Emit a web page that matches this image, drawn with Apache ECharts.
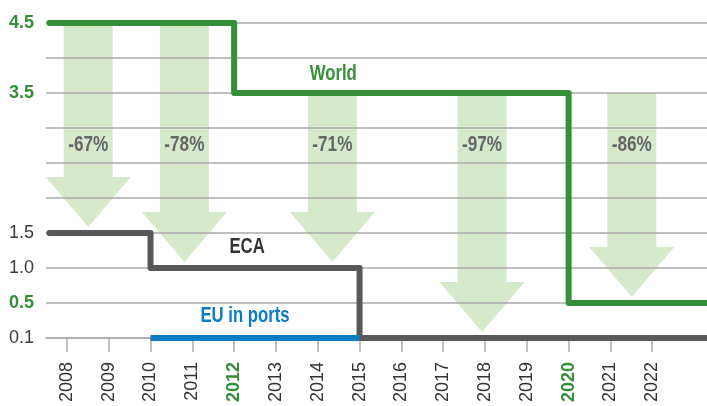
<!DOCTYPE html>
<html>
<head>
<meta charset="utf-8">
<script src="https://cdn.jsdelivr.net/npm/echarts@6/dist/echarts.min.js"></script>
<style>
  html, body { margin: 0; padding: 0; background: #fff; }
  #chart { width: 707px; height: 406px; }
</style>
</head>
<body>
<div id="chart"></div>
<script>
// limits (% sulphur) along the category y axis, bottom to top
const levels = ['0.1', '0.5', '1.0', '1.5', '2.0', '2.5', '3.0', '3.5', '4.0', '4.5'];
const shownLevels = ['4.5', '3.5', '1.5', '1.0', '0.5', '0.1'];
const greenLevels = ['4.5', '3.5', '0.5'];
const years = [2008, 2009, 2010, 2011, 2012, 2013, 2014, 2015, 2016, 2017, 2018, 2019, 2020, 2021, 2022];
const greenYears = [2012, 2020];

const xMin = 2007.5, xMax = 2023.31;
const world = [[2007.58, '4.5'], [2012, '4.5'], [2012, '3.5'], [2020, '3.5'], [2020, '0.5'], [2023.6, '0.5']];
const eca = [[2007.58, '1.5'], [2010, '1.5'], [2010, '1.0'], [2015, '1.0'], [2015, '0.1'], [2023.6, '0.1']];
const euPorts = [[2010, '0.1'], [2015, '0.1']];

// reduction arrows
const arrowX = [2008.51, 2010.81, 2014.35, 2017.93, 2021.51];
const arrowFrom = ['4.5', '4.5', '3.5', '3.5', '3.5'];
const arrowTo = ['1.5', '1.0', '1.0', '0.1', '0.5'];
const arrowLabels = ['-67%', '-78%', '-71%', '-97%', '-86%'];

// line names
const lineNames = ['World', 'ECA', 'EU in ports'];
const lineNameX = [2014.37, 2012.31, 2012.26];
const lineNameLevel = [7.54, 2.59, 0.63];

const GREEN = '#348f38', GREY = '#58585a', BLUE = '#0a7cc4', ARROW = '#d4eacb';
const FONT = '"Liberation Sans", Arial, sans-serif';

function levelY(api, x, f) {
  const i = Math.floor(f);
  const a = api.coord([x, i])[1];
  const b = api.coord([x, Math.min(i + 1, levels.length - 1)])[1];
  return a + (b - a) * (f - i);
}

const chart = echarts.init(document.getElementById('chart'));
chart.setOption({
  animation: false,
  grid: { left: 46, right: 0, top: 23, bottom: 68, containLabel: false, outerBoundsMode: 'none' },
  xAxis: {
    type: 'value',
    min: xMin,
    max: xMax,
    splitLine: { show: false },
    axisLine: { show: true, lineStyle: { color: '#aaaaaa', width: 1.5 } },
    axisTick: { show: true, customValues: years, length: 14, lineStyle: { color: '#aaaaaa', width: 1.5 } },
    axisLabel: {
      customValues: years,
      rotate: 90,
      margin: 24,
      fontFamily: FONT,
      fontSize: 18,
      color: '#333',
      formatter: v => greenYears.includes(v) ? '{g|' + v + '}' : '' + v,
      rich: { g: { color: GREEN, fontWeight: 'bold', fontSize: 18, fontFamily: FONT } }
    }
  },
  yAxis: {
    type: 'category',
    data: levels,
    boundaryGap: false,
    axisLine: { show: false },
    axisTick: { show: false },
    splitLine: { show: true, interval: 0, lineStyle: { color: '#aaaaaa', width: 1.5 } },
    axisLabel: {
      interval: 0,
      margin: 12,
      fontFamily: FONT,
      fontSize: 18,
      color: '#3c3c3c',
      formatter: v => !shownLevels.includes(v) ? '' : (greenLevels.includes(v) ? '{g|' + v + '}' : v),
      rich: { g: { color: GREEN, fontWeight: 'bold', fontSize: 18, fontFamily: FONT } }
    }
  },
  series: [
    {
      type: 'custom',
      z: -1,
      silent: true,
      data: arrowX.map((x, i) => [x, i]),
      renderItem: (params, api) => {
        const i = params.dataIndex;
        const x = arrowX[i];
        const top = api.coord([x, levels.indexOf(arrowFrom[i])]);
        const tip = api.coord([x, levels.indexOf(arrowTo[i])]);
        const cx = top[0], ty = top[1], py = tip[1] - 6, hy = py - 50;
        const ly = levelY(api, x, 5.51);
        return {
          type: 'group',
          children: [
            {
              type: 'polygon',
              shape: { points: [[cx - 24.5, ty], [cx + 24.5, ty], [cx + 24.5, hy], [cx + 42.5, hy], [cx, py], [cx - 42.5, hy], [cx - 24.5, hy]] },
              style: { fill: ARROW }
            },
            {
              type: 'text',
              x: cx, y: ly, scaleX: 0.78,
              style: { x: 0, y: 0, text: arrowLabels[i], fill: '#666666', font: 'bold 22px ' + FONT, align: 'center', verticalAlign: 'middle' }
            }
          ]
        };
      }
    },
    {
      type: 'line', data: world, showSymbol: false, silent: true,
      lineStyle: { color: GREEN, width: 6, cap: 'round', join: 'round' }
    },
    {
      type: 'line', data: eca, showSymbol: false, silent: true,
      lineStyle: { color: GREY, width: 6, cap: 'round', join: 'round' }
    },
    {
      type: 'line', data: euPorts, showSymbol: false, silent: true,
      lineStyle: { color: BLUE, width: 6, cap: 'butt', join: 'round' }
    },
    {
      type: 'custom',
      z: 5,
      silent: true,
      data: lineNameX.map((x, i) => [x, i]),
      renderItem: (params, api) => {
        const i = params.dataIndex;
        const x = lineNameX[i];
        const px = api.coord([x, 0])[0];
        const py = levelY(api, x, lineNameLevel[i]);
        return {
          type: 'text',
          x: px, y: py, scaleX: 0.76,
          style: { x: 0, y: 0, text: lineNames[i], fill: [GREEN, '#333333', BLUE][i], font: 'bold 22px ' + FONT, align: 'center', verticalAlign: 'middle' }
        };
      }
    }
  ]
});
</script>
</body>
</html>
